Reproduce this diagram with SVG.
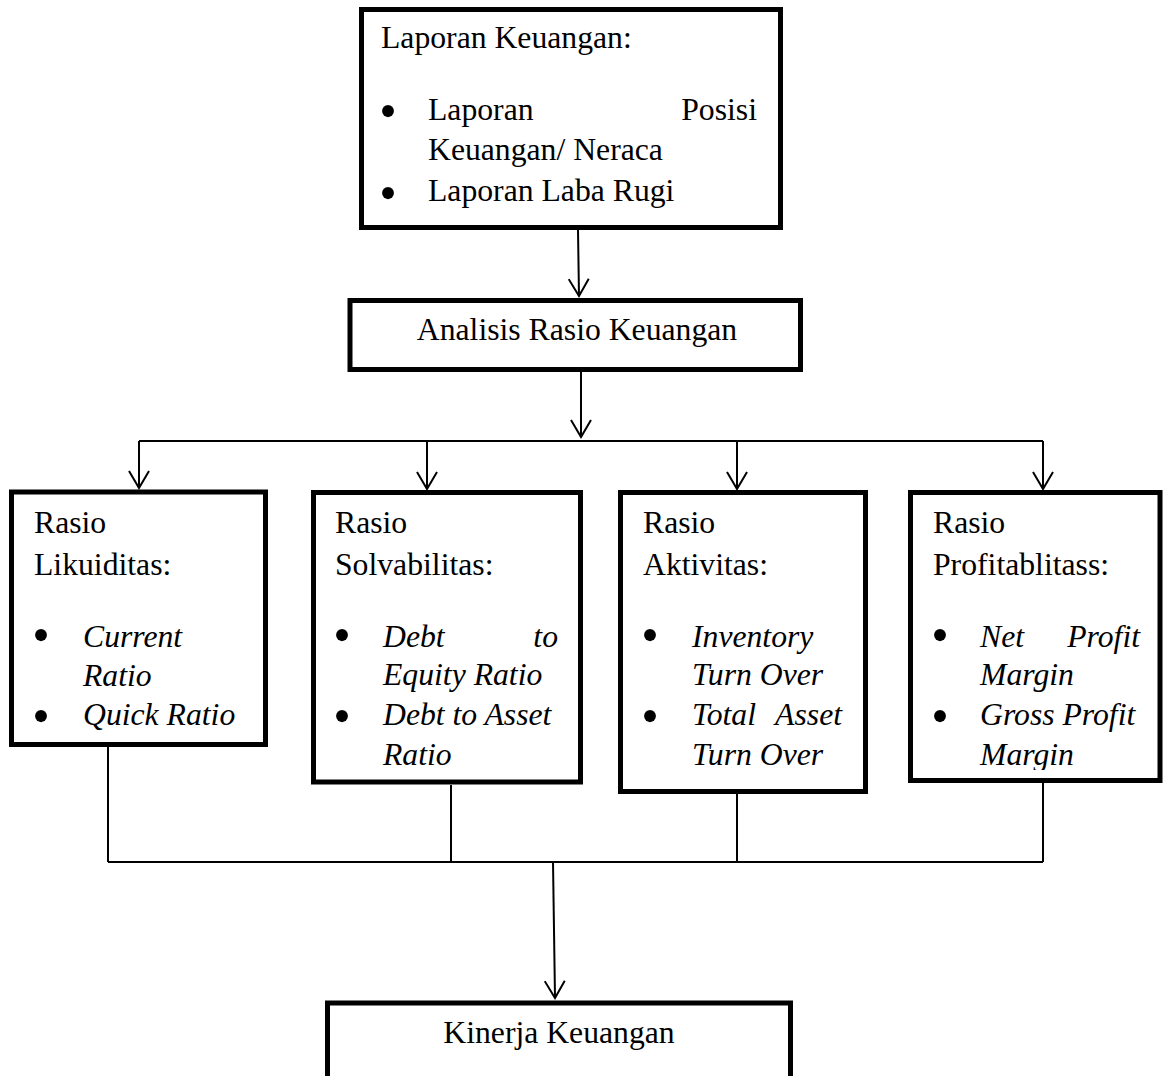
<svg xmlns="http://www.w3.org/2000/svg" width="1165" height="1076" viewBox="0 0 1165 1076">
<style>
.box{fill:#fff;stroke:#000;stroke-width:5}
.t{font-family:"Liberation Serif","Times New Roman",serif;font-size:31.7px;fill:#000}
.i{font-style:italic}
.b{font-family:"Liberation Serif","Times New Roman",serif;font-size:50px;fill:#000;text-anchor:middle}
.c{text-anchor:middle}
.e{text-anchor:end}
.con{fill:none;stroke:#000;stroke-width:2}
</style>
<defs>
<marker id="arr" viewBox="0 0 20 22" refX="18" refY="11" markerWidth="20" markerHeight="22" markerUnits="userSpaceOnUse" orient="auto">
<path d="M1,1 L18,11 L1,21" fill="none" stroke="#000" stroke-width="2"/>
</marker>
<clipPath id="clipP"><rect x="913" y="495" width="245" height="275"/></clipPath>
</defs>
<rect width="1165" height="1076" fill="#fff"/>
<g id="connectors">
<path class="con" d="M578,230 L579,296" marker-end="url(#arr)"/>
<path class="con" d="M581,372 L581,437" marker-end="url(#arr)"/>
<path class="con" d="M139,441 H1043"/>
<path class="con" d="M139,441 V488" marker-end="url(#arr)"/>
<path class="con" d="M427,441 V489" marker-end="url(#arr)"/>
<path class="con" d="M737,441 V489" marker-end="url(#arr)"/>
<path class="con" d="M1043,441 V489" marker-end="url(#arr)"/>
<path class="con" d="M108,747 V862 M451,785 V862 M737,794 V862 M1043,783 V862 M108,862 H1043"/>
<path class="con" d="M553,862 L555,998" marker-end="url(#arr)"/>
</g>
<g id="laporan">
<rect class="box" x="361.5" y="9.5" width="419" height="218"/>
<text class="t" x="381" y="48">Laporan Keuangan:</text>
<text class="b" x="388" y="128">•</text>
<text class="t" x="428" y="120">Laporan</text>
<text class="t e" x="757" y="120">Posisi</text>
<text class="t" x="428" y="160">Keuangan/ Neraca</text>
<text class="b" x="388" y="210">•</text>
<text class="t" x="428" y="201">Laporan Laba Rugi</text>
</g>
<g id="analisis">
<rect class="box" x="350" y="300.5" width="450.5" height="69"/>
<text class="t c" x="577" y="340">Analisis Rasio Keuangan</text>
</g>
<g id="likuiditas">
<rect class="box" x="11.5" y="492" width="254" height="252.5"/>
<text class="t" x="34" y="533">Rasio</text>
<text class="t" x="34" y="575">Likuiditas:</text>
<text class="b" x="41" y="652">•</text>
<text class="t i" x="83" y="647">Current</text>
<text class="t i" x="83" y="686">Ratio</text>
<text class="b" x="41" y="733">•</text>
<text class="t i" x="83" y="725">Quick Ratio</text>
</g>
<g id="solvabilitas">
<rect class="box" x="313.5" y="492.5" width="267" height="289.5"/>
<text class="t" x="335" y="533">Rasio</text>
<text class="t" x="335" y="575">Solvabilitas:</text>
<text class="b" x="342" y="652">•</text>
<text class="t i" x="383" y="647">Debt</text>
<text class="t i e" x="558" y="647">to</text>
<text class="t i" x="383" y="685">Equity Ratio</text>
<text class="b" x="342" y="733">•</text>
<text class="t i" x="383" y="725">Debt to Asset</text>
<text class="t i" x="383" y="765">Ratio</text>
</g>
<g id="aktivitas">
<rect class="box" x="620.5" y="492.5" width="245" height="299"/>
<text class="t" x="643" y="533">Rasio</text>
<text class="t" x="643" y="575">Aktivitas:</text>
<text class="b" x="650" y="652">•</text>
<text class="t i" x="692" y="647">Inventory</text>
<text class="t i" x="692" y="685">Turn Over</text>
<text class="b" x="650" y="733">•</text>
<text class="t i" x="692" y="725">Total</text>
<text class="t i e" x="842" y="725">Asset</text>
<text class="t i" x="692" y="765">Turn Over</text>
</g>
<g id="profitabilitas">
<rect class="box" x="910.5" y="492.5" width="249.5" height="288"/>
<text class="t" x="933" y="533">Rasio</text>
<text class="t" x="933" y="575">Profitablitass:</text>
<text class="b" x="940" y="652">•</text>
<text class="t i" x="980" y="647">Net</text>
<text class="t i e" x="1140" y="647">Profit</text>
<text class="t i" x="980" y="685">Margin</text>
<text class="b" x="940" y="733">•</text>
<text class="t i" x="980" y="725">Gross Profit</text>
<text class="t i" x="980" y="765" clip-path="url(#clipP)">Margin</text>
</g>
<g id="kinerja">
<rect class="box" x="327.5" y="1003" width="463" height="120"/>
<text class="t c" x="559" y="1043">Kinerja Keuangan</text>
</g>
</svg>
